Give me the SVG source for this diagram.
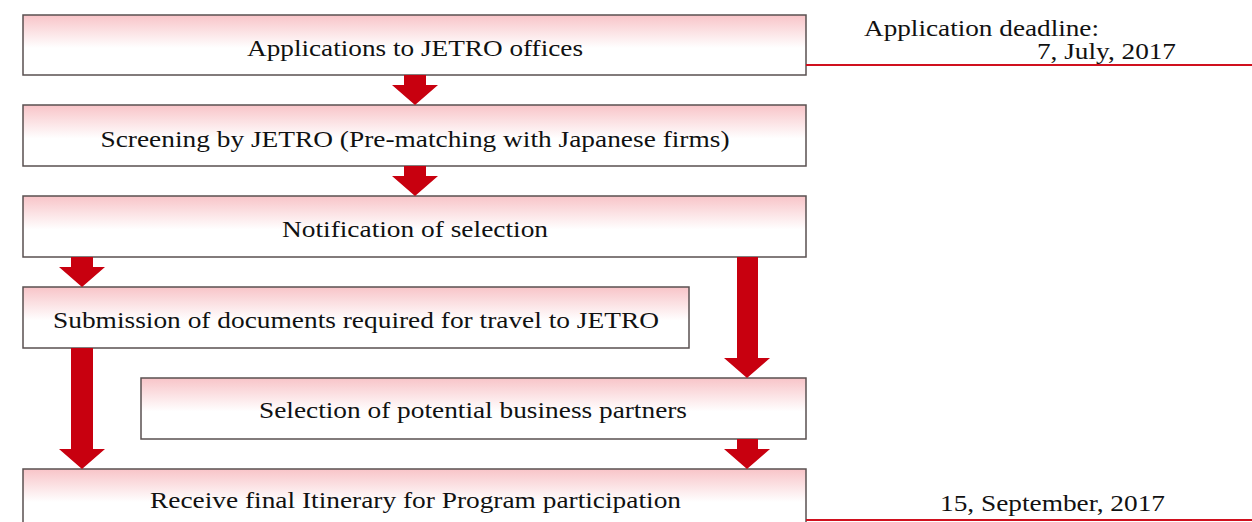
<svg xmlns="http://www.w3.org/2000/svg" width="1252" height="522" viewBox="0 0 1252 522" font-family="Liberation Serif, Times New Roman, serif" font-size="23.5">
<style>
.box{fill:url(#g);stroke:#595050;stroke-width:1.5}
.t{fill:#111;text-anchor:middle}
.r{fill:#111}
.arr{fill:#c8000f}
.ln{stroke:#d0101e;stroke-width:2.2}
</style>
<defs>
<linearGradient id="g" x1="0" y1="0" x2="0" y2="1">
<stop offset="0" stop-color="#f8c4c8"/>
<stop offset="0.55" stop-color="#ffffff"/>
<stop offset="1" stop-color="#ffffff"/>
</linearGradient>
</defs>
<g id="n1"><rect class="box" x="23" y="15" width="783" height="60"/><text class="t" x="415" y="55.5" textLength="336" lengthAdjust="spacingAndGlyphs">Applications to JETRO offices</text></g>
<g id="n2"><rect class="box" x="23" y="105" width="783" height="61"/><text class="t" x="415" y="146.5" textLength="629" lengthAdjust="spacingAndGlyphs">Screening by JETRO (Pre-matching with Japanese firms)</text></g>
<g id="n3"><rect class="box" x="23" y="196" width="783" height="61"/><text class="t" x="415" y="236.5" textLength="266" lengthAdjust="spacingAndGlyphs">Notification of selection</text></g>
<g id="n4"><rect class="box" x="23" y="287" width="666" height="61"/><text class="t" x="356" y="327.5" textLength="606" lengthAdjust="spacingAndGlyphs">Submission of documents required for travel to JETRO</text></g>
<g id="n5"><rect class="box" x="141" y="378" width="665" height="61"/><text class="t" x="473" y="417.5" textLength="428" lengthAdjust="spacingAndGlyphs">Selection of potential business partners</text></g>
<g id="n6"><rect class="box" x="23" y="469" width="783" height="60"/><text class="t" x="415.5" y="507.5" textLength="531" lengthAdjust="spacingAndGlyphs">Receive final Itinerary for Program participation</text></g>
<g id="notes">
<text class="r" x="864" y="36" textLength="235" lengthAdjust="spacingAndGlyphs">Application deadline:</text>
<text class="r" x="1037" y="59" textLength="139" lengthAdjust="spacingAndGlyphs">7, July, 2017</text>
<text class="r" x="940" y="511" textLength="225" lengthAdjust="spacingAndGlyphs">15, September, 2017</text>
</g>
<g id="connectors">
<polygon class="arr" points="404,75 426,75 426,85 438,85 415,105 392,85 404,85"/>
<polygon class="arr" points="404,166 426,166 426,176 438,176 415,196 392,176 404,176"/>
<polygon class="arr" points="71,257 93,257 93,267 105,267 82,287 59,267 71,267"/>
<polygon class="arr" points="71,348 93,348 93,449 105,449 82,469 59,449 71,449"/>
<polygon class="arr" points="737,257 758,257 758,358 770,358 747,378 724,358 737,358"/>
<polygon class="arr" points="737,439 758,439 758,449 770,449 747,469 724,449 737,449"/>
<line class="ln" x1="806" y1="65" x2="1252" y2="65"/>
<line class="ln" x1="806" y1="520" x2="1252" y2="520"/>
</g>
</svg>
